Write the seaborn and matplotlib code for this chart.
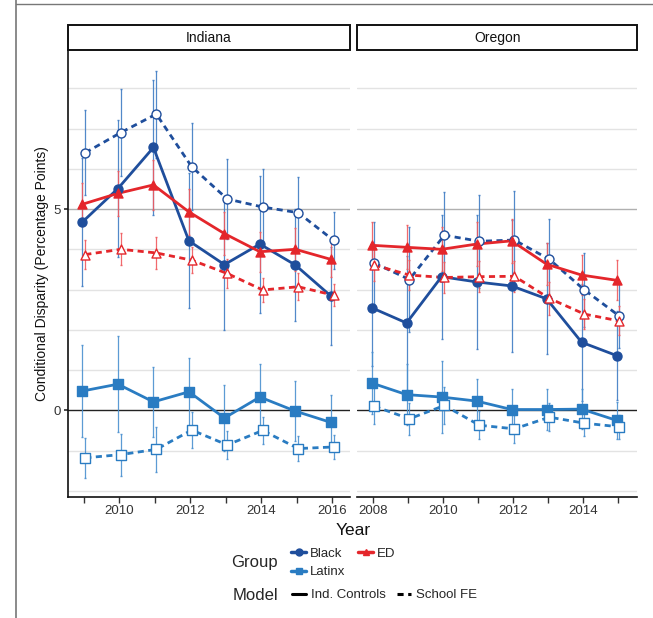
import numpy as np
import pandas as pd
import matplotlib
matplotlib.use("Agg")
import matplotlib.pyplot as plt
import matplotlib.lines as mlines
import seaborn as sns

# Data
years_in = [2009, 2010, 2011, 2012, 2013, 2014, 2015, 2016]
years_or = [2008, 2009, 2010, 2011, 2012, 2013, 2014, 2015]

# Indiana estimates and half-widths of the intervals
in_black_ic = [4.68, 5.51, 6.53, 4.21, 3.62, 4.13, 3.61, 2.84]
in_black_ic_se = [1.60, 1.70, 1.68, 1.68, 1.63, 1.70, 1.39, 1.21]
in_black_fe = [6.40, 6.90, 7.36, 6.05, 5.25, 5.05, 4.91, 4.22]
in_black_fe_se = [1.06, 1.08, 1.08, 1.08, 1.00, 0.94, 0.89, 0.71]
in_ed_ic = [5.12, 5.39, 5.60, 4.93, 4.39, 3.94, 4.00, 3.75]
in_ed_ic_se = [0.53, 0.56, 0.62, 0.58, 0.54, 0.50, 0.53, 0.45]
in_ed_fe = [3.87, 4.00, 3.91, 3.73, 3.40, 2.99, 3.07, 2.86]
in_ed_fe_se = [0.36, 0.40, 0.39, 0.33, 0.37, 0.29, 0.33, 0.27]
in_lat_ic = [0.48, 0.65, 0.21, 0.46, -0.19, 0.33, -0.02, -0.30]
in_lat_ic_se = [1.15, 1.20, 0.87, 0.85, 0.83, 0.83, 0.75, 0.67]
in_lat_fe = [-1.18, -1.10, -0.97, -0.49, -0.86, -0.50, -0.95, -0.91]
in_lat_fe_se = [0.49, 0.52, 0.55, 0.45, 0.34, 0.33, 0.30, 0.30]

# Oregon
or_black_ic = [2.55, 2.17, 3.32, 3.19, 3.09, 2.77, 1.69, 1.36]
or_black_ic_se = [1.45, 1.67, 1.54, 1.66, 1.64, 1.38, 1.45, 1.11]
or_black_fe = [3.66, 3.25, 4.35, 4.20, 4.23, 3.75, 2.99, 2.34]
or_black_fe_se = [1.02, 1.30, 1.08, 1.15, 1.23, 1.00, 0.91, 0.80]
or_ed_ic = [4.10, 4.05, 4.00, 4.13, 4.21, 3.63, 3.36, 3.23]
or_ed_ic_se = [0.58, 0.55, 0.55, 0.55, 0.55, 0.52, 0.50, 0.50]
or_ed_fe = [3.61, 3.36, 3.30, 3.32, 3.33, 2.78, 2.39, 2.22]
or_ed_fe_se = [0.40, 0.38, 0.38, 0.38, 0.38, 0.40, 0.38, 0.36]
or_lat_ic = [0.68, 0.39, 0.33, 0.23, 0.02, 0.02, 0.03, -0.25]
or_lat_ic_se = [0.77, 0.75, 0.90, 0.56, 0.52, 0.50, 0.50, 0.45]
or_lat_fe = [0.10, -0.21, 0.12, -0.37, -0.46, -0.17, -0.32, -0.41]
or_lat_fe_se = [0.45, 0.40, 0.45, 0.35, 0.35, 0.35, 0.32, 0.30]

groups = ["Black", "Latinx", "ED"]
models = ["Ind. Controls", "School FE"]

rows = []
series = {
    ("Indiana", "Black", "Ind. Controls"): (in_black_ic, in_black_ic_se),
    ("Indiana", "Black", "School FE"): (in_black_fe, in_black_fe_se),
    ("Indiana", "ED", "Ind. Controls"): (in_ed_ic, in_ed_ic_se),
    ("Indiana", "ED", "School FE"): (in_ed_fe, in_ed_fe_se),
    ("Indiana", "Latinx", "Ind. Controls"): (in_lat_ic, in_lat_ic_se),
    ("Indiana", "Latinx", "School FE"): (in_lat_fe, in_lat_fe_se),
    ("Oregon", "Black", "Ind. Controls"): (or_black_ic, or_black_ic_se),
    ("Oregon", "Black", "School FE"): (or_black_fe, or_black_fe_se),
    ("Oregon", "ED", "Ind. Controls"): (or_ed_ic, or_ed_ic_se),
    ("Oregon", "ED", "School FE"): (or_ed_fe, or_ed_fe_se),
    ("Oregon", "Latinx", "Ind. Controls"): (or_lat_ic, or_lat_ic_se),
    ("Oregon", "Latinx", "School FE"): (or_lat_fe, or_lat_fe_se),
}
for (state, grp, mod), (vals, ses) in series.items():
    yrs = years_in if state == "Indiana" else years_or
    for yr, v, s in zip(yrs, vals, ses):
        rows.append({"State": state, "Group": grp, "Model": mod,
                     "Year": yr, "Est": v, "SE": s})
df = pd.DataFrame(rows)

# small dodge like position_dodge
dodge = {"Ind. Controls": -0.04, "School FE": 0.04}
df["x"] = df["Year"] + df["Model"].map(dodge)

colors = {"Black": "#1f4e9c", "Latinx": "#2a7cc2", "ED": "#e4262b"}
err_colors = {"Black": "#3f7cc4", "Latinx": "#4a90d0", "ED": "#f05a5e"}
mk = {"Black": "o", "Latinx": "s", "ED": "^"}

sns.set_theme(style="white")
plt.rcParams["font.family"] = ["Liberation Sans", "DejaVu Sans"]

fig = plt.figure(figsize=(6.53, 6.18), dpi=100)
ax_in = fig.add_axes([0.104, 0.196, 0.432, 0.723])
ax_or = fig.add_axes([0.547, 0.196, 0.429, 0.723])

for ax, state, xlim in [(ax_in, "Indiana", (2008.55, 2016.5)),
                        (ax_or, "Oregon", (2007.55, 2015.55))]:
    sub = df[df["State"] == state]
    ax.set_ylim(-2.15, 8.95)
    ax.set_xlim(*xlim)
    # grid
    for g in [-2, -1, 1, 2, 3, 4, 6, 7, 8]:
        ax.axhline(g, color="#e3e3e3", lw=1.0, zorder=0)
    ax.axhline(5, color="#b0b0b0", lw=1.0, zorder=0)
    ax.axhline(0, color="#222222", lw=1.0, zorder=1)

    for grp in groups:
        for mod in models:
            d = sub[(sub["Group"] == grp) & (sub["Model"] == mod)]
            ax.errorbar(d["x"], d["Est"], yerr=d["SE"], fmt="none",
                        ecolor=err_colors[grp], elinewidth=0.9,
                        capsize=1, alpha=0.9, zorder=2)

    sns.lineplot(data=sub, x="x", y="Est", hue="Group", style="Model",
                 hue_order=groups, style_order=models, palette=colors,
                 dashes={"Ind. Controls": "", "School FE": (2.2, 1.6)},
                 estimator=None, sort=True, lw=2.0, legend=False,
                 ax=ax, zorder=3)

    for grp in groups:
        for mod in models:
            d = sub[(sub["Group"] == grp) & (sub["Model"] == mod)]
            face = colors[grp] if mod == "Ind. Controls" else "white"
            ax.scatter(d["x"], d["Est"], marker=mk[grp], s=42,
                       facecolor=face, edgecolor=colors[grp],
                       linewidth=1.0, zorder=4)

    ax.set_xlabel("")
    ax.set_ylabel("")
    ax.set_yticks([0, 5])
    ticks = list(range(int(np.ceil(xlim[0])), int(xlim[1]) + 1))
    ax.set_xticks(ticks)
    ax.set_xticklabels([str(t) if t % 2 == 0 else "" for t in ticks],
                       fontsize=9.5, color="#333333")
    ax.tick_params(axis="x", length=4, width=1, color="#333333", bottom=True,
                   pad=2)
    for sp in ["top", "right"]:
        ax.spines[sp].set_visible(False)
    ax.spines["bottom"].set_color("#111111")
    ax.spines["bottom"].set_linewidth(1.2)
    if state == "Indiana":
        ax.spines["left"].set_color("#111111")
        ax.spines["left"].set_linewidth(1.2)
        ax.set_yticklabels(["0", "5"], fontsize=9.5, color="#333333")
        ax.tick_params(axis="y", length=3, left=True, color="#333333", pad=2)
    else:
        ax.spines["left"].set_visible(False)
        ax.set_yticklabels([])
        ax.tick_params(axis="y", length=0)

    # facet strip
    strip = plt.Rectangle((0, 1.0), 1, 0.056, transform=ax.transAxes,
                          facecolor="white", edgecolor="#111111", lw=1.4,
                          clip_on=False, zorder=5)
    ax.add_patch(strip)
    ax.text(0.5, 1.028, state, transform=ax.transAxes, ha="center",
            va="center", fontsize=10, color="#111111", zorder=6)

fig.text(0.064, 0.557, "Conditional Disparity (Percentage Points)",
         rotation=90, ha="center", va="center", fontsize=10, color="#111111")
fig.text(0.541, 0.142, "Year", ha="center", va="center", fontsize=12.5,
         color="#111111")

# legends
fig.text(0.426, 0.089, "Group", ha="right", va="center", fontsize=12)
fig.text(0.426, 0.037, "Model", ha="right", va="center", fontsize=12)

grp_handles = [mlines.Line2D([], [], color=colors[g], marker=mk[g], lw=2.5,
                             markersize=5, label=g)
               for g in ["Black", "Latinx", "ED"]]
fig.legend(handles=grp_handles, ncol=2, loc="center left",
           bbox_to_anchor=(0.436, 0.089), frameon=False,
           fontsize=9.5, handlelength=1.1, handletextpad=0.3,
           columnspacing=1.0, labelspacing=0.45, borderpad=0)
mod_handles = [mlines.Line2D([], [], color="black", lw=2.2, ls="-",
                             label="Ind. Controls"),
               mlines.Line2D([], [], color="black", lw=2.2, ls=(0, (2, 1.5)),
                             label="School FE")]
fig.legend(handles=mod_handles, ncol=2, loc="center left",
           bbox_to_anchor=(0.437, 0.037), frameon=False,
           fontsize=9.5, handlelength=1.1, handletextpad=0.35,
           columnspacing=0.8, borderpad=0)

# page border lines seen in the crop
fig.add_artist(mlines.Line2D([0.024, 0.024], [0, 1], color="#777777", lw=1.2))
fig.add_artist(mlines.Line2D([0.024, 1], [0.994, 0.994], color="#777777",
                             lw=1.0))

fig.savefig("out.png", dpi=100)
